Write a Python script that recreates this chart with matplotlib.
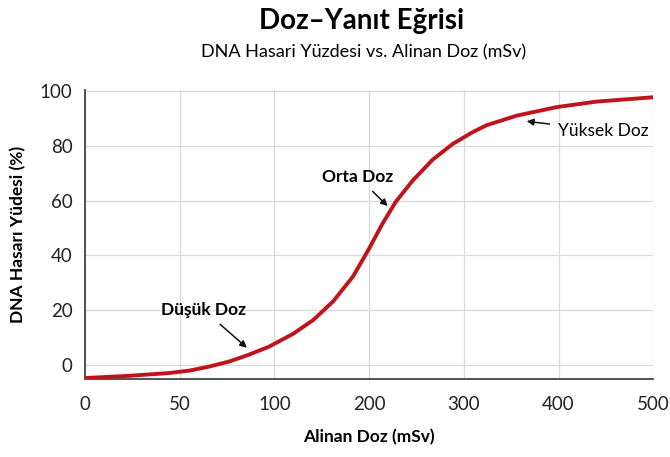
import matplotlib.pyplot as plt
import numpy as np

plt.rcParams['font.family'] = ['Lato', 'DejaVu Sans']

# dose values (mSv) and DNA damage (%)
dose = [0, 23, 44, 55, 65, 76, 86, 97, 120, 141, 162, 183, 200, 214, 228,
        246, 267, 288, 309, 324, 356, 398, 440, 500]
damage = [-4.8, -4.0, -3.0, -2.1, -0.7, 1.2, 3.6, 6.6, 11.4, 16.4, 23.2, 32.3, 42.5, 51.5, 59.5,
          67.3, 74.9, 80.6, 84.9, 87.5, 91.0, 94.1, 96.1, 97.7]

tick_vals = [0, 50, 100, 200, 300, 400, 500]
tick_pos = np.arange(len(tick_vals))
y_ticks = [0, 20, 40, 60, 80, 100]


# x axis is evenly spaced by tick, not by value
def forward(x):
    return np.interp(x, tick_vals, tick_pos)


def inverse(p):
    return np.interp(p, tick_pos, tick_vals)


fig = plt.figure(figsize=(6.7, 4.57), dpi=100)
ax = fig.add_axes([0.127, 0.171, 0.848, 0.633])
ax.set_xscale('function', functions=(forward, inverse))

ax.plot(dose, damage, color='#c0141c', linewidth=2.8, solid_capstyle='round',
        solid_joinstyle='round', zorder=3)

ax.set_xlim(0, 500)
ax.set_ylim(-5.1, 100.5)
ax.set_xticks(tick_vals)
ax.set_xticklabels([str(v) for v in tick_vals])
ax.set_yticks(y_ticks)
ax.tick_params(length=0, labelsize=13.5, colors='#222222')
ax.tick_params(axis='x', pad=12)
ax.tick_params(axis='y', pad=9)
ax.grid(True, color='#dadada', linewidth=0.9)
ax.set_axisbelow(True)

for s in ['top', 'right']:
    ax.spines[s].set_visible(False)
for s in ['left', 'bottom']:
    ax.spines[s].set_color('#444444')
    ax.spines[s].set_linewidth(1.3)

ax.set_xlabel('Alinan Doz (mSv)', fontsize=12.5, fontweight='bold', labelpad=12)
ax.set_ylabel('DNA Hasarı Yüdesi (%)', fontsize=12.5, fontweight='bold', labelpad=10)

fig.text(0.54, 0.955, 'Doz\u2013Yanıt Eğrisi', ha='center', va='center', fontsize=20, fontweight='bold')
fig.text(0.542, 0.886, 'DNA Hasari Yüzdesi vs. Alinan Doz (mSv)', ha='center', va='center', fontsize=13)

arrow = dict(arrowstyle='-|>', color='#111111', lw=1.1, mutation_scale=10, shrinkA=4, shrinkB=1)
ax.annotate('Düşük Doz', xy=(86, 5.9), xytext=(62.6, 20.1), ha='center', va='center',
            fontsize=12.5, fontweight='bold', arrowprops=arrow)
ax.annotate('Orta Doz', xy=(220.6, 57.6), xytext=(187.8, 68.7), ha='center', va='center',
            fontsize=12.5, fontweight='bold', arrowprops=arrow)
ax.annotate('Yüksek Doz', xy=(364.9, 89.0), xytext=(447, 85.5), ha='center', va='center',
            fontsize=12.5, arrowprops=arrow)

fig.savefig('out.png', dpi=100)
